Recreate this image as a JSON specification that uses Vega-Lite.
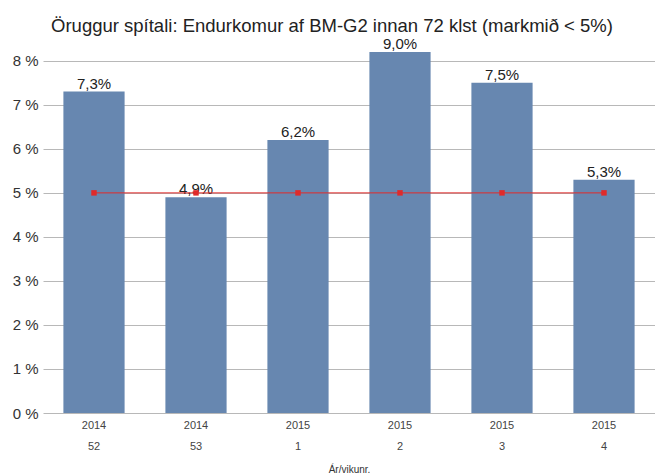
{
  "$schema": "https://vega.github.io/schema/vega-lite/v6.json",
  "width": 612,
  "height": 361,
  "autosize": {"type": "none"},
  "padding": {"left": 43, "top": 52, "right": 0, "bottom": 63},
  "background": "white",
  "config": {
    "locale": {"number": {"decimal": ",", "thousands": ".", "grouping": [3], "currency": ["", " kr."]}},
    "view": {"stroke": null},
    "font": "Liberation Sans"
  },
  "title": {
    "text": "Öruggur spítali: Endurkomur af BM-G2 innan 72 klst (markmið < 5%)",
    "fontSize": 18.5,
    "font": "Liberation Sans",
    "fontWeight": "normal",
    "color": "#222222",
    "anchor": "middle",
    "dx": -17,
    "dy": -2,
    "offset": 0
  },
  "data": {
    "values": [
      {"period": "2014 52", "rate": 0.073, "target": 0.05},
      {"period": "2014 53", "rate": 0.049, "target": 0.05},
      {"period": "2015 1", "rate": 0.062, "target": 0.05},
      {"period": "2015 2", "rate": 0.090, "target": 0.05},
      {"period": "2015 3", "rate": 0.075, "target": 0.05},
      {"period": "2015 4", "rate": 0.053, "target": 0.05}
    ]
  },
  "encoding": {
    "x": {
      "field": "period",
      "type": "ordinal",
      "sort": null,
      "scale": {"paddingInner": 0.4, "paddingOuter": 0.2},
      "axis": {
        "title": "Ár/vikunr.",
        "titleFontSize": 10,
        "titleFontWeight": "normal",
        "titleColor": "#333333",
        "titlePadding": 13,
        "labelAngle": 0,
        "labelExpr": "split(datum.value, ' ')",
        "labelFontSize": 11,
        "labelColor": "#444444",
        "labelLineHeight": 21,
        "labelPadding": 6,
        "ticks": false,
        "domain": false
      }
    }
  },
  "layer": [
    {
      "mark": {"type": "bar", "color": "#6787b0"},
      "encoding": {
        "y": {
          "field": "rate",
          "type": "quantitative",
          "scale": {"domain": [0, 0.082], "clamp": true, "nice": false, "zero": true},
          "axis": {
            "title": null,
            "values": [0, 0.01, 0.02, 0.03, 0.04, 0.05, 0.06, 0.07, 0.08],
            "format": ".0%",
            "labelExpr": "replace(datum.label, '%', ' %')",
            "grid": true,
            "gridColor": "#b8b8b8",
            "domain": false,
            "ticks": false,
            "labelFontSize": 15,
            "labelColor": "#333333",
            "labelPadding": 5
          }
        }
      }
    },
    {
      "mark": {"type": "text", "dy": -3, "baseline": "alphabetic", "fontSize": 15, "color": "#222222"},
      "encoding": {
        "y": {"field": "rate", "type": "quantitative"},
        "text": {"field": "rate", "type": "quantitative", "format": ".1%"}
      }
    },
    {
      "mark": {"type": "line", "color": "#e02a2a", "strokeWidth": 1},
      "encoding": {"y": {"field": "target", "type": "quantitative"}}
    },
    {
      "mark": {"type": "square", "color": "#e02a2a", "size": 30, "opacity": 1, "filled": true},
      "encoding": {"y": {"field": "target", "type": "quantitative"}}
    }
  ]
}
